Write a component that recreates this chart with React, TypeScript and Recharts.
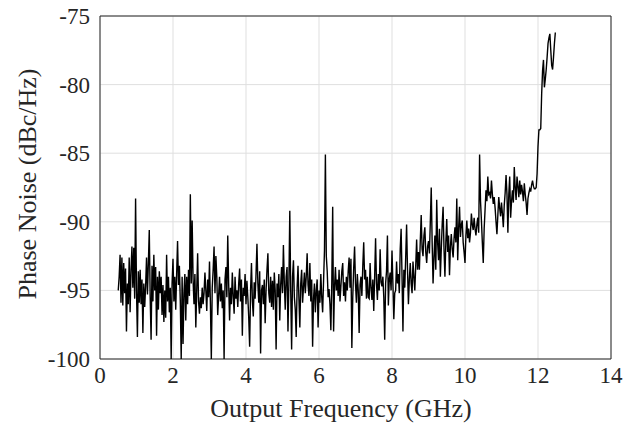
import { LineChart, Line, XAxis, YAxis, CartesianGrid, ReferenceArea, Label } from 'recharts'

// sweep: 0.5 GHz .. 12.475 GHz, 25 MHz steps
const FREQ_START = 0.5
const FREQ_STEP = 0.025

// phase noise in dBc/Hz, one row per 0.25 GHz
const PHASE_NOISE = [
  -95.0, -94.0, -92.4, -95.9, -92.6, -96.1, -93.0, -95.2, -93.4, -98.0, // 0.50
  -94.5, -96.0, -92.6, -96.6, -93.5, -91.8, -94.8, -91.9, -95.6, -88.3, // 0.75
  -95.0, -98.4, -93.6, -95.9, -93.5, -96.0, -94.2, -98.1, -94.5, -96.2, // 1.00
  -94.7, -92.6, -95.3, -93.0, -90.6, -95.5, -98.6, -93.2, -95.8, -92.4, // 1.25
  -95.0, -93.3, -98.3, -94.0, -96.4, -93.6, -95.2, -94.0, -96.8, -94.6, // 1.50
  -97.3, -95.0, -97.0, -92.4, -95.8, -94.0, -96.6, -94.8, -100.0, -94.5, // 1.75
  -92.7, -95.8, -94.0, -96.4, -93.8, -91.4, -94.6, -93.2, -95.8, -100.0, // 2.00
  -94.0, -98.9, -95.2, -93.8, -97.2, -94.0, -96.0, -93.5, -95.4, -88.0, // 2.25
  -94.5, -89.9, -94.2, -96.0, -93.8, -97.7, -95.0, -92.3, -95.8, -96.7, // 2.50
  -95.5, -96.3, -94.8, -96.0, -95.2, -93.7, -95.0, -96.5, -94.2, -95.5, // 2.75
  -92.9, -96.0, -100.0, -94.8, -93.5, -91.8, -95.2, -92.5, -94.0, -96.8, // 3.00
  -95.4, -94.0, -95.8, -94.5, -96.3, -95.0, -100.0, -94.2, -93.3, -95.5, // 3.25
  -91.0, -94.5, -97.2, -94.8, -96.0, -93.7, -95.4, -96.7, -94.0, -95.6, // 3.50
  -95.0, -96.2, -94.5, -93.4, -95.8, -94.2, -98.3, -94.8, -95.4, -93.8, // 3.75
  -96.0, -94.3, -95.5, -97.0, -99.1, -95.0, -93.0, -95.8, -96.9, -94.4, // 4.00
  -95.6, -93.8, -91.6, -94.5, -95.9, -93.6, -99.6, -95.0, -94.6, -96.0, // 4.25
  -94.2, -97.4, -95.0, -93.5, -92.3, -95.2, -95.9, -94.0, -96.2, -94.3, // 4.50
  -96.4, -93.7, -95.0, -99.3, -94.5, -95.5, -93.8, -97.2, -94.6, -93.3, // 4.75
  -95.2, -91.7, -94.5, -96.4, -94.0, -93.3, -98.0, -94.5, -89.2, -95.0, // 5.00
  -99.3, -94.0, -92.8, -95.5, -96.4, -98.4, -94.8, -93.2, -95.6, -97.7, // 5.25
  -94.5, -93.5, -95.9, -94.8, -93.7, -95.2, -94.0, -92.3, -94.6, -95.4, // 5.50
  -93.0, -95.8, -94.2, -99.1, -95.6, -94.5, -96.6, -95.0, -94.2, -97.7, // 5.75
  -95.0, -95.9, -93.8, -95.5, -96.6, -94.3, -92.1, -85.1, -92.5, -93.6, // 6.00
  -95.5, -94.9, -96.0, -97.9, -94.5, -88.9, -98.0, -94.8, -93.3, -95.0, // 6.25
  -94.2, -95.4, -93.5, -95.8, -94.7, -93.6, -93.0, -95.4, -94.4, -95.8, // 6.50
  -94.0, -95.0, -93.6, -92.6, -94.8, -92.7, -99.2, -95.5, -93.4, -91.8, // 6.75
  -94.5, -95.9, -93.8, -95.0, -98.1, -94.6, -94.0, -95.4, -93.2, -91.5, // 7.00
  -94.2, -93.5, -95.6, -94.0, -95.5, -95.6, -93.0, -94.8, -95.7, -94.2, // 7.25
  -96.5, -94.0, -91.2, -94.5, -95.7, -93.8, -95.0, -92.0, -94.4, -94.7, // 7.50
  -94.0, -95.5, -98.6, -94.5, -93.6, -91.0, -96.1, -94.2, -93.7, -95.0, // 7.75
  -92.1, -94.5, -97.1, -95.2, -95.0, -92.9, -94.5, -93.8, -95.2, -92.0, // 8.00
  -90.5, -94.0, -98.0, -93.5, -94.8, -92.6, -90.2, -93.5, -96.0, -94.2, // 8.25
  -93.0, -94.5, -95.2, -92.9, -94.0, -95.0, -93.2, -91.3, -93.5, -92.2, // 8.50
  -93.5, -91.4, -89.5, -92.0, -92.5, -91.0, -90.4, -92.2, -93.0, -91.8, // 8.75
  -91.4, -92.3, -90.0, -87.5, -91.5, -94.5, -92.6, -91.0, -93.5, -88.4, // 9.00
  -91.5, -92.8, -90.5, -94.0, -92.0, -90.2, -88.9, -92.0, -94.0, -91.5, // 9.25
  -89.8, -92.2, -91.0, -93.9, -91.8, -90.9, -92.0, -92.6, -91.2, -90.4, // 9.50
  -91.5, -88.3, -92.8, -90.5, -88.9, -91.1, -90.2, -89.9, -91.5, -92.2, // 9.75
  -93.0, -91.0, -89.9, -91.2, -90.5, -91.5, -90.8, -89.4, -90.2, -90.6, // 10.00
  -89.7, -90.5, -91.0, -90.2, -89.7, -90.8, -85.1, -88.5, -89.9, -91.5, // 10.25
  -93.0, -90.5, -89.1, -87.7, -88.5, -86.7, -88.0, -87.9, -88.3, -87.0, // 10.50
  -88.0, -88.7, -88.2, -89.0, -90.0, -90.9, -89.5, -88.2, -89.0, -89.6, // 10.75
  -88.6, -89.4, -90.4, -88.8, -87.9, -86.6, -88.0, -90.8, -88.0, -86.7, // 11.00
  -89.7, -88.5, -87.7, -88.6, -86.0, -87.5, -88.4, -86.7, -87.4, -88.2, // 11.25
  -87.0, -88.0, -87.3, -87.8, -88.5, -87.2, -88.0, -88.6, -89.5, -88.3, // 11.50
  -87.9, -87.6, -87.8, -87.3, -87.0, -87.4, -87.6, -87.6, -87.5, -86.5, // 11.75
  -84.5, -83.3, -83.3, -83.2, -80.7, -79.0, -78.2, -80.2, -79.6, -78.9, // 12.00
  -78.0, -77.0, -76.6, -76.3, -77.5, -78.6, -78.9, -78.0, -77.0, -76.2, // 12.25
]

const X_TICKS = [0, 2, 4, 6, 8, 10, 12, 14]
const Y_TICKS = [-100, -95, -90, -85, -80, -75]

const FONT = "'Liberation Serif', 'Times New Roman', serif"
const INK = '#262626'

const data = PHASE_NOISE.map((pn, i) => ({ freq: FREQ_START + i * FREQ_STEP, pn }))

const XTick = ({ x, y, payload }: any) => (
  <text x={x} y={y} dy="0.71em" textAnchor="middle" fontSize={23} fill={INK} style={{ fontFamily: FONT }}>
    {payload.value}
  </text>
)

const YTick = ({ x, y, payload }: any) => (
  <text x={x} y={y} dy="0.35em" textAnchor="end" fontSize={23} fill={INK} style={{ fontFamily: FONT }}>
    {payload.value}
  </text>
)

export default function App() {
  return (
    <div style={{ width: 637, height: 430, background: '#fff' }}>
      <style>{'body{margin:0}'}</style>
      <LineChart width={637} height={430} data={data} margin={{ top: 16, right: 26, bottom: 0, left: 0 }}>
        <CartesianGrid stroke="#dfdfdf" strokeWidth={1} />
        <XAxis
          dataKey="freq"
          type="number"
          domain={[0, 14]}
          ticks={X_TICKS}
          interval={0}
          height={71}
          axisLine={false}
          tickLine={false}
          tickMargin={2}
          tick={XTick}
        >
          <Label
            content={() => (
              <text x={341} y={417} textAnchor="middle" fontSize={26} fill={INK} style={{ fontFamily: FONT }}>
                Output Frequency (GHz)
              </text>
            )}
          />
        </XAxis>
        <YAxis
          type="number"
          domain={[-100, -75]}
          ticks={Y_TICKS}
          interval={0}
          width={100}
          allowDataOverflow
          axisLine={false}
          tickLine={false}
          tickMargin={4}
          tick={YTick}
        >
          <Label
            content={() => (
              <text
                x={27}
                y={184}
                transform="rotate(-90 27 184)"
                textAnchor="middle"
                dominantBaseline="central"
                fontSize={26}
                fill={INK}
                style={{ fontFamily: FONT }}
              >
                Phase Noise (dBc/Hz)
              </text>
            )}
          />
        </YAxis>
        <Line
          type="linear"
          dataKey="pn"
          stroke="#000"
          strokeWidth={1.4}
          dot={false}
          isAnimationActive={false}
        />
        <ReferenceArea x1={0} x2={14} y1={-100} y2={-75} fill="none" stroke={INK} strokeWidth={1} />
      </LineChart>
    </div>
  )
}
